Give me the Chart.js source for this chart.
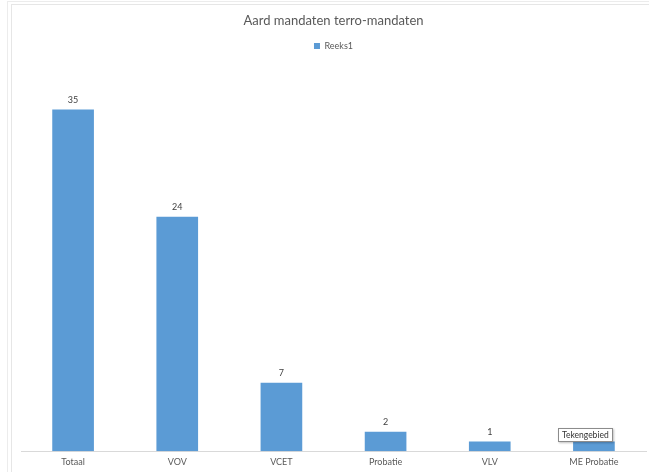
<!DOCTYPE html>
<html>
<head>
<meta charset="utf-8">
<script src="https://cdn.jsdelivr.net/npm/chart.js@4"></script>
<style>
  html, body { margin: 0; padding: 0; background: #fff; }
  #wrap { position: relative; width: 649px; height: 472px; overflow: hidden; }
  #frameOuter { position: absolute; left: 7px; top: 1px; width: 700px; height: 500px; border-left: 1px solid #ececec; border-top: 1px solid #ececec; }
  #frameInner { position: absolute; left: 11px; top: 4px; width: 700px; height: 500px; border-left: 1px solid #e6e6e6; border-top: 1px solid #e6e6e6; }
  #tip { position: absolute; left: 558px; top: 428px; padding: 1px 3px; font: 8.5px Lato, sans-serif; color: #333;
         background: #fff; border: 1px solid #8c8c8c; box-shadow: 1px 1px 2px rgba(0,0,0,0.25); }
  canvas { position: absolute; left: 0; top: 0; }
</style>
</head>
<body>
<div id="wrap">
  <div id="frameOuter"></div>
  <div id="frameInner"></div>
  <canvas id="chart" width="649" height="472"></canvas>
  <div id="tip">Tekengebied</div>
</div>
<script>
// gegevens
const categories = ['Totaal', 'VOV', 'VCET', 'Probatie', 'VLV', 'ME Probatie'];
const reeks1 = [35, 24, 7, 2, 1, 1];
const chartTitle = 'Aard mandaten terro-mandaten';
const seriesName = 'Reeks1';

// waarden boven de staven
const valueLabels = {
  id: 'valueLabels',
  afterDatasetsDraw(chart) {
    const ctx = chart.ctx;
    ctx.save();
    ctx.font = '9px Lato, sans-serif';
    ctx.fillStyle = '#404040';
    ctx.textAlign = 'center';
    ctx.textBaseline = 'bottom';
    chart.getDatasetMeta(0).data.forEach((bar, i) => {
      ctx.fillText(reeks1[i], bar.x, bar.y - 5);
    });
    ctx.restore();
  }
};

new Chart(document.getElementById('chart'), {
  type: 'bar',
  data: {
    labels: categories,
    datasets: [{
      label: seriesName,
      data: reeks1,
      backgroundColor: '#5b9bd5',
      borderWidth: 0,
      barPercentage: 0.4,
      categoryPercentage: 1.0
    }]
  },
  options: {
    responsive: false,
    animation: false,
    layout: { padding: { left: 21, right: 3, top: 0, bottom: 0 } },
    plugins: {
      title: {
        display: true,
        text: chartTitle,
        color: '#595959',
        font: { family: 'Lato, sans-serif', size: 13, weight: 'normal' },
        padding: { top: 13, bottom: 7 }
      },
      legend: {
        labels: {
          color: '#595959',
          font: { family: 'Lato, sans-serif', size: 9 },
          boxWidth: 6,
          boxHeight: 6,
          padding: 6
        }
      },
      tooltip: { enabled: false }
    },
    scales: {
      x: {
        grid: { display: false, drawTicks: false },
        border: { color: '#d9d9d9' },
        ticks: { color: '#595959', font: { family: 'Lato, sans-serif', size: 9 }, padding: 5 }
      },
      y: {
        display: false,
        min: 0,
        max: 40
      }
    }
  },
  plugins: [valueLabels]
});
</script>
</body>
</html>
